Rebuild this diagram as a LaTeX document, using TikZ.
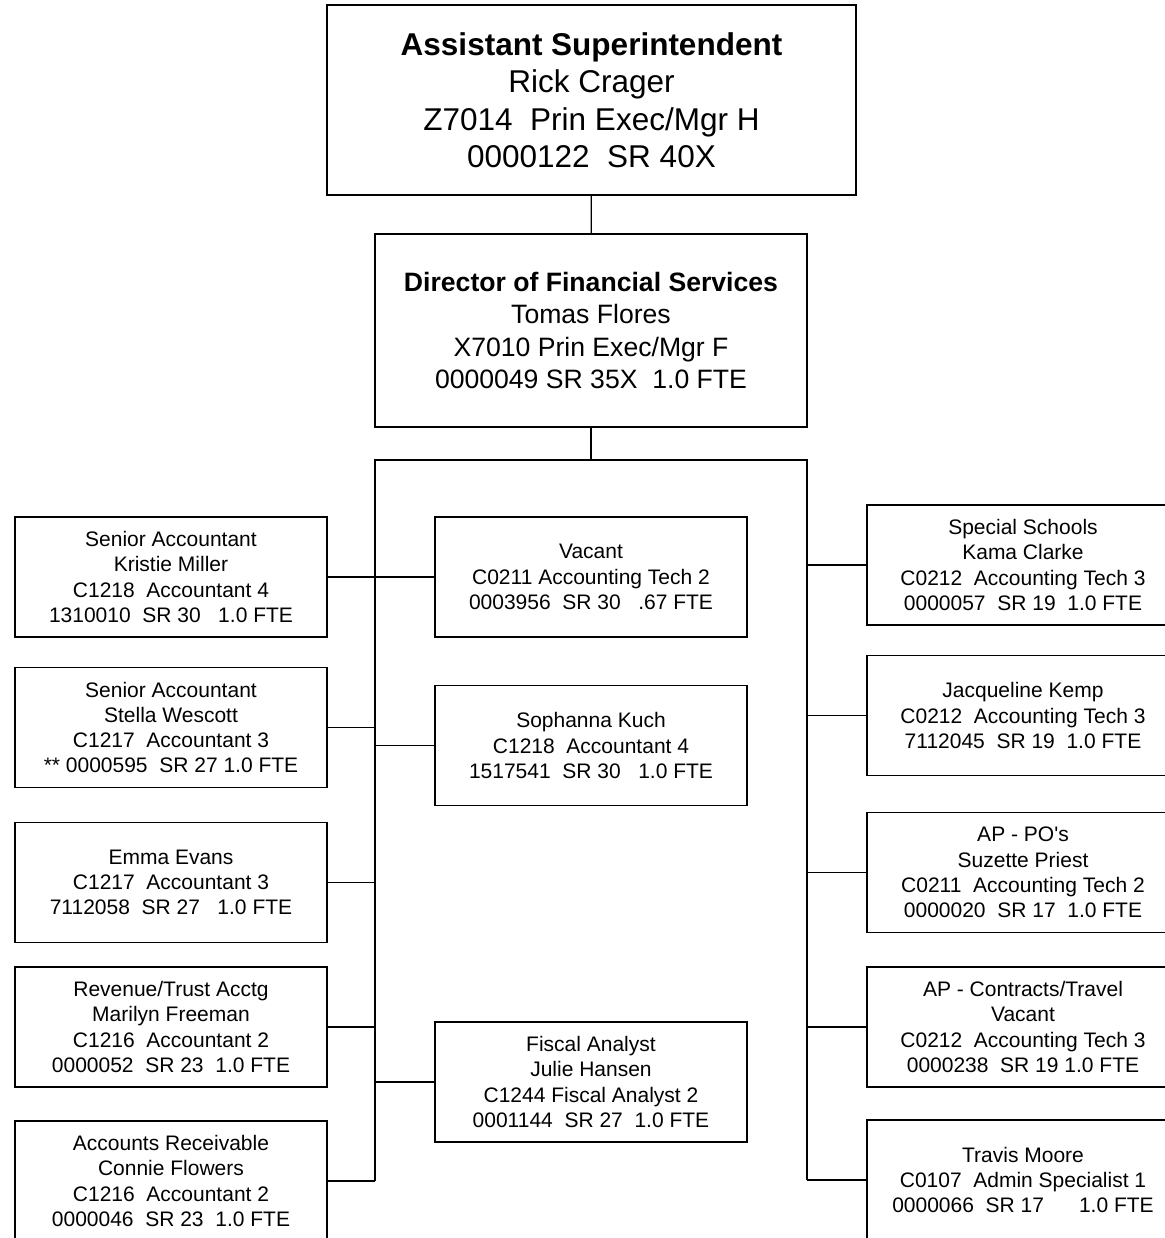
\documentclass[tikz,border=0pt]{standalone}
\usepackage{fontspec}
\setmainfont{Liberation Sans}
\tikzset{
  post/.style={draw,line width=0.9pt,inner sep=0pt,minimum width=156pt,minimum height=60pt,align=center,font=\fontsize{10.5}{12.65}\selectfont},
  head/.style={draw,line width=0.9pt,inner sep=0pt,align=center},
  link/.style={line width=0.7pt}
}
\begin{document}
\begin{tikzpicture}[x=0.5pt,y=-0.5pt]
\useasboundingbox (0,0) rectangle (1165,1238);
\clip (0,0) rectangle (1165,1238);
% heads
\node[head,minimum width=264.5pt,minimum height=95pt,font=\fontsize{15.75}{18.75}\selectfont] (sup) at (591.5,100)
  {\textbf{Assistant Superintendent}\\Rick Crager\\Z7014~~Prin Exec/Mgr H\\0000122~~SR 40X};
\node[head,minimum width=216pt,minimum height=96.5pt,font=\fontsize{13.3}{16.3}\selectfont] (dir) at (591,330.5)
  {\textbf{Director of Financial Services}\\Tomas Flores\\X7010 Prin Exec/Mgr F\\0000049 SR 35X~~1.0 FTE};
% left column
\node[post] (l1) at (171,577) {Senior Accountant\\Kristie Miller\\C1218~~Accountant 4\\1310010~~SR 30~~~1.0 FTE};
\node[post] (l2) at (171,727.5) {Senior Accountant\\Stella Wescott\\C1217~~Accountant 3\\** 0000595~~SR 27 1.0 FTE};
\node[post] (l3) at (171,882.5) {Emma Evans\\C1217~~Accountant 3\\7112058~~SR 27~~~1.0 FTE};
\node[post] (l4) at (171,1027) {Revenue/Trust Acctg\\Marilyn Freeman\\C1216~~Accountant 2\\0000052~~SR 23~~1.0 FTE};
\node[post] (l5) at (171,1181) {Accounts Receivable\\Connie Flowers\\C1216~~Accountant 2\\0000046~~SR 23~~1.0 FTE};
% middle column
\node[post] (m1) at (591,577) {Vacant\\C0211 Accounting Tech 2\\0003956~~SR 30~~~.67 FTE};
\node[post] (m2) at (591,745.5) {Sophanna Kuch\\C1218~~Accountant 4\\1517541~~SR 30~~~1.0 FTE};
\node[post] (m3) at (591,1082) {Fiscal Analyst\\Julie Hansen\\C1244 Fiscal Analyst 2\\0001144~~SR 27~~1.0 FTE};
% right column
\node[post] (r1) at (1023,565) {Special Schools\\Kama Clarke\\C0212~~Accounting Tech 3\\0000057~~SR 19~~1.0 FTE};
\node[post] (r2) at (1023,715.5) {Jacqueline Kemp\\C0212~~Accounting Tech 3\\7112045~~SR 19~~1.0 FTE};
\node[post] (r3) at (1023,872.5) {AP - PO\textquotesingle s\\Suzette Priest\\C0211~~Accounting Tech 2\\0000020~~SR 17~~1.0 FTE};
\node[post] (r4) at (1023,1027) {AP - Contracts/Travel\\Vacant\\C0212~~Accounting Tech 3\\0000238~~SR 19 1.0 FTE};
\node[post] (r5) at (1023,1180) {Travis Moore\\C0107~~Admin Specialist 1\\0000066~~SR 17~~~~~~1.0 FTE};
% lines
\coordinate (busL) at (375,460);
\coordinate (busR) at (807,460);
\draw[link] (sup) -- (dir);
\draw[link] (dir.south) -- (dir.south |- busL);
\draw[link] (busL |- l5.east) -- (busL) -- (busR) -- (busR |- r5.west);
\foreach \n in {l1,l2,l3,l4,l5} \draw[link] (\n.east) -- (\n.east -| busL);
\foreach \n in {m1,m2,m3} \draw[link] (\n.west) -- (\n.west -| busL);
\foreach \n in {r1,r2,r3,r4,r5} \draw[link] (\n.west) -- (\n.west -| busR);
\end{tikzpicture}
\end{document}
